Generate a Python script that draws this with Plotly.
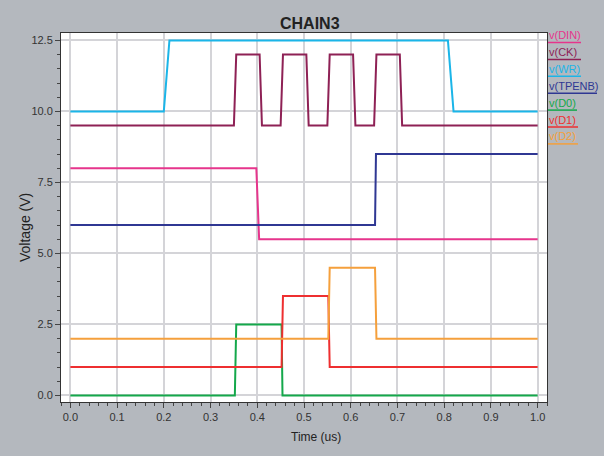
import plotly.graph_objects as go

# ---- data ----
series_names = ["v(DIN)", "v(CK) ", "v(WR)", "v(TPENB)", "v(D0)", "v(D1)", "v(D2)"]
series_colors = ["#E6358C", "#8E2155", "#1BB5E8", "#2F3793", "#14A84B", "#EE2F30", "#F5A03C"]

t_din = [0.0, 0.398, 0.404, 1.0]
v_din = [8.0, 8.0, 5.5, 5.5]

t_ck = [0.0, 0.35, 0.355, 0.405, 0.41, 0.45, 0.455, 0.505, 0.51,
        0.55, 0.555, 0.605, 0.61, 0.65, 0.655, 0.705, 0.71, 1.0]
v_ck = [9.5, 9.5, 12.0, 12.0, 9.5, 9.5, 12.0, 12.0, 9.5,
        9.5, 12.0, 12.0, 9.5, 9.5, 12.0, 12.0, 9.5, 9.5]

t_wr = [0.0, 0.2, 0.212, 0.808, 0.82, 1.0]
v_wr = [10.0, 10.0, 12.5, 12.5, 10.0, 10.0]

t_tpenb = [0.0, 0.652, 0.654, 1.0]
v_tpenb = [6.0, 6.0, 8.5, 8.5]

t_d0 = [0.0, 0.352, 0.355, 0.452, 0.454, 1.0]
v_d0 = [0.0, 0.0, 2.5, 2.5, 0.0, 0.0]

t_d1 = [0.0, 0.452, 0.455, 0.552, 0.555, 1.0]
v_d1 = [1.0, 1.0, 3.5, 3.5, 1.0, 1.0]

t_d2 = [0.0, 0.552, 0.555, 0.652, 0.655, 1.0]
v_d2 = [2.0, 2.0, 4.5, 4.5, 2.0, 2.0]

xs = [t_din, t_ck, t_wr, t_tpenb, t_d0, t_d1, t_d2]
ys = [v_din, v_ck, v_wr, v_tpenb, v_d0, v_d1, v_d2]

# ---- layout geometry (pixels) ----
W, H = 604, 456
L, R, T, B = 61, 57, 33, 54
PW, PH = W - L - R, H - T - B

def px(x):
    return (x - L) / PW

def py(y):
    return (H - B - y) / PH

FONT = "Liberation Sans, Arial, sans-serif"

fig = go.Figure()
for name, col, x, y in zip(series_names, series_colors, xs, ys):
    fig.add_trace(go.Scatter(x=x, y=y, mode="lines", name=name.strip(),
                             line=dict(color=col, width=2), showlegend=False))

annotations = [
    dict(text="<b>CHAIN3</b>", x=px(310), y=py(23), xref="paper", yref="paper",
         showarrow=False, font=dict(size=16, color="#222222", family=FONT),
         xanchor="center", yanchor="middle"),
    dict(text="Time (us)", x=px(316), y=py(437), xref="paper", yref="paper",
         showarrow=False, font=dict(size=12, color="#222222", family=FONT),
         xanchor="center", yanchor="middle"),
    dict(text="Voltage (V)", x=px(25), y=py(228), xref="paper", yref="paper",
         showarrow=False, textangle=-90, font=dict(size=14, color="#222222", family=FONT),
         xanchor="center", yanchor="middle"),
]
shapes = []
underline_w = [33, 33, 33, 49, 29, 30, 30]
for i, (name, col) in enumerate(zip(series_names, series_colors)):
    yc = 35 + i * 16.9
    annotations.append(dict(text=name.strip(), x=px(547), y=py(yc), xref="paper", yref="paper",
                            showarrow=False, xanchor="left", yanchor="middle",
                            font=dict(size=11, color=col, family=FONT)))
    shapes.append(dict(type="line", xref="paper", yref="paper",
                       x0=px(548), x1=px(548 + underline_w[i]),
                       y0=py(yc + 7.5), y1=py(yc + 7.5),
                       line=dict(color=col, width=1.5)))

fig.update_layout(
    width=W, height=H,
    margin=dict(l=L, r=R, t=T, b=B, pad=0),
    paper_bgcolor="#B4B8BE",
    plot_bgcolor="#FFFFFF",
    font=dict(family=FONT, size=11, color="#333333"),
    showlegend=False,
    annotations=annotations,
    shapes=shapes,
)
fig.update_xaxes(
    range=[-0.02, 1.02], tick0=0, dtick=0.1, tickformat=".1f",
    showgrid=True, gridcolor="#D4D4D8", gridwidth=1.5, zeroline=False,
    showline=True, mirror=True, linecolor="#333333", linewidth=1,
    ticks="outside", ticklen=5, tickcolor="#444444",
    minor=dict(dtick=0.02, ticks="outside", ticklen=3, tickcolor="#444444", showgrid=False),
    tickfont=dict(size=11, color="#333333"),
)
fig.update_yaxes(
    range=[-0.23, 12.76], tick0=0, dtick=2.5, tickformat=".1f",
    showgrid=True, gridcolor="#D4D4D8", gridwidth=1.5, zeroline=False,
    showline=True, mirror=True, linecolor="#333333", linewidth=1,
    ticks="outside", ticklen=5, tickcolor="#444444",
    minor=dict(dtick=0.5, ticks="outside", ticklen=3, tickcolor="#444444", showgrid=False),
    tickfont=dict(size=11, color="#333333"),
)

fig.write_html("out.html", config={"displayModeBar": False},
               post_script="document.body.style.margin='0px';document.body.style.overflow='hidden';")
